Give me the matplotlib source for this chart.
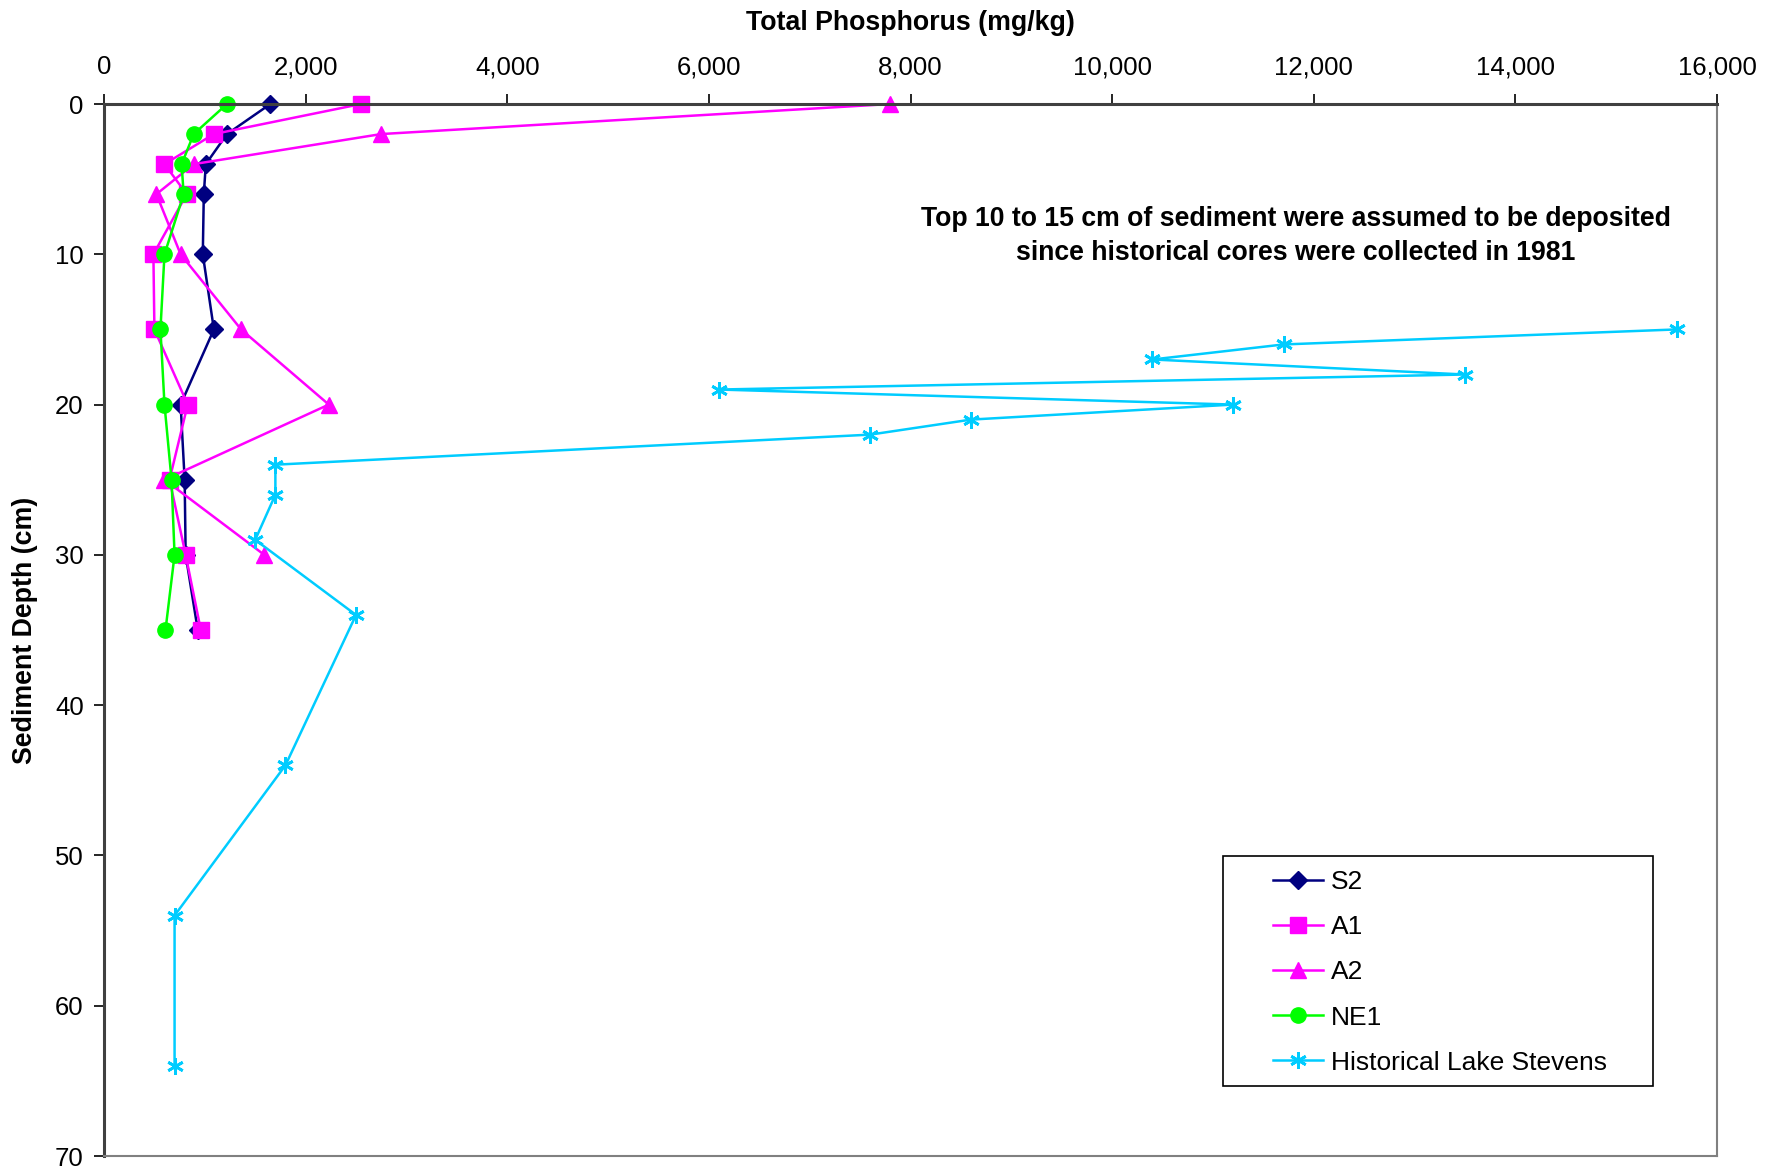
import matplotlib.pyplot as plt
from matplotlib.patches import Rectangle
from matplotlib.ticker import FuncFormatter, MultipleLocator

plt.rcParams['font.family'] = ['Liberation Sans', 'DejaVu Sans']

# Sediment core depths (cm) and total phosphorus (mg/kg)
depth_s2 = [0, 2, 4, 6, 10, 15, 20, 25, 30, 35]
tp_s2 = [1650, 1220, 1010, 990, 980, 1090, 760, 800, 810, 930]

depth_a1 = [0, 2, 4, 6, 10, 15, 20, 25, 30, 35]
tp_a1 = [2550, 1090, 600, 820, 490, 500, 830, 650, 810, 960]

depth_a2 = [0, 2, 4, 6, 10, 15, 20, 25, 30]
tp_a2 = [7800, 2750, 890, 520, 760, 1360, 2230, 600, 1590]

depth_ne1 = [0, 2, 4, 6, 10, 15, 20, 25, 30, 35]
tp_ne1 = [1220, 890, 770, 790, 600, 560, 600, 670, 700, 610]

depth_hist = [15, 16, 17, 18, 19, 20, 21, 22, 24, 26, 29, 34, 44, 54, 64]
tp_hist = [15600, 11700, 10400, 13500, 6100, 11200, 8600, 7600,
           1700, 1700, 1500, 2500, 1800, 700, 700]

fig = plt.figure(figsize=(17.78, 11.69), dpi=100)
ax = fig.add_axes([104 / 1778, 1 - 1156 / 1169, 1613 / 1778, 1052 / 1169])

lw = 1.8
ax.plot(tp_s2, depth_s2, color='#000080', marker='D', ms=9.5, lw=lw, label='S2', clip_on=False)
ax.plot(tp_a1, depth_a1, color='#FF00FF', marker='s', ms=11, lw=lw, label='A1', clip_on=False)
ax.plot(tp_a2, depth_a2, color='#FF00FF', marker='^', ms=12, lw=lw, label='A2', clip_on=False)
ax.plot(tp_ne1, depth_ne1, color='#00FF00', marker='o', ms=11, lw=lw, label='NE1', clip_on=False)
ax.plot(tp_hist, depth_hist, color='#00CCFF', marker=(6, 2, 0), ms=12, mew=2,
        lw=lw, label='Historical Lake Stevens', clip_on=False)

ax.set_xlim(0, 16000)
ax.set_ylim(70, 0)
ax.xaxis.set_major_locator(MultipleLocator(2000))
ax.yaxis.set_major_locator(MultipleLocator(10))
ax.xaxis.set_major_formatter(FuncFormatter(lambda v, p: f'{int(v):,}'))

ax.xaxis.tick_top()
ax.xaxis.set_label_position('top')
ax.tick_params(axis='both', direction='out', length=7, width=1.2,
               labelsize=18.5, colors='black')
ax.tick_params(axis='x', pad=11)
ax.tick_params(axis='y', pad=7.5)

for side in ['top', 'left']:
    ax.spines[side].set_color('#404040')
    ax.spines[side].set_linewidth(2.2)
for side in ['right', 'bottom']:
    ax.spines[side].set_color('#808080')
    ax.spines[side].set_linewidth(1.5)

ax.set_xlabel('Total Phosphorus (mg/kg)', fontsize=19.3, fontweight='bold')
ax.set_ylabel('Sediment Depth (cm)', fontsize=19.3, fontweight='bold')
ax.xaxis.set_label_coords(0.5, 1.07)
ax.yaxis.set_label_coords(-0.041, 0.5)

ax.text(11820, 8.8, 'Top 10 to 15 cm of sediment were assumed to be deposited\n'
        'since historical cores were collected in 1981',
        ha='center', va='center', fontsize=19.2, fontweight='bold', linespacing=1.42)

# legend frame drawn separately so it can be wider than the entries
ax.add_patch(Rectangle((0.6937, 0.0665), 0.2666, 0.2187, transform=ax.transAxes,
                       facecolor='white', edgecolor='black', lw=1.2, zorder=5))
leg = ax.legend(loc='upper left', bbox_to_anchor=(1260 / 1778, 1 - 857 / 1169),
                bbox_transform=fig.transFigure, frameon=False, fontsize=19,
                borderpad=0, handlelength=1.9, handletextpad=0.3,
                labelspacing=0.8)
leg.set_zorder(6)

fig.savefig('out.png', dpi=100)
